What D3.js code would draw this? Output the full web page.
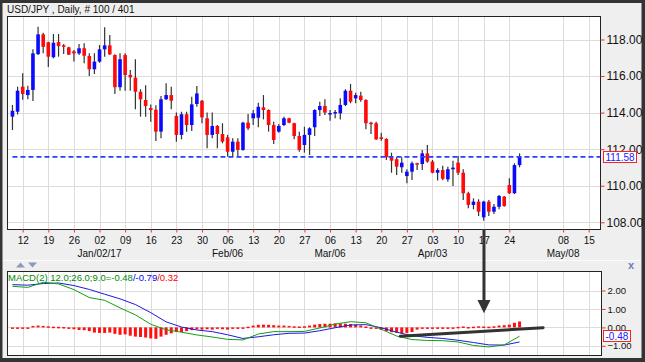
<!DOCTYPE html>
<html>
<head>
    <meta charset="utf-8">
    <title>USD/JPY Daily</title>
    <script src="https://cdn.jsdelivr.net/npm/d3@7"></script>
    <style>
        body { margin: 0; background: #333; }
        svg text { font-family: "Liberation Sans", Arial, sans-serif; }
    </style>
</head>
<body>
<svg id="chart" width="645" height="362"></svg>
<script>
    // daily candles, one per weekday: Dec 08 2016 .. Apr 26 2017 (index 0..99)
    var opens = [
        113.78, 114.05, 115.42, 114.96, 115.24, 117.20, 118.28, 117.85, 117.03, 117.86,
        117.68, 117.57, 117.35, 117.24, 117.52, 117.10, 116.37, 116.79, 117.46, 117.68,
        117.15, 115.39, 117.15, 116.06, 115.91, 115.14, 114.69, 114.25, 114.16, 112.96,
        114.73, 114.96, 113.82, 112.78, 113.91, 113.32, 114.47, 114.65, 113.69, 112.78,
        113.27, 112.83, 112.65, 111.86, 112.41, 111.96, 113.45, 113.69, 113.72, 114.29,
        114.14, 113.32, 112.96, 113.32, 113.69, 113.42, 112.72, 112.23, 112.78, 113.20,
        114.14, 114.36, 113.92, 113.95, 113.96, 114.42, 115.20, 114.78, 114.93, 114.69,
        113.45, 113.42, 112.65, 112.56, 111.56, 111.45, 111.01, 110.53, 110.77, 111.23,
        111.19, 111.77, 111.32, 110.71, 110.86, 110.35, 110.90, 111.26, 110.71, 109.59,
        108.95, 109.13, 108.27, 109.13, 108.58, 108.85, 109.40, 110.04, 109.59, 111.13
    ];
    var highs = [
        114.42, 115.42, 116.15, 115.47, 117.46, 118.70, 118.37, 117.88, 118.30, 118.30,
        117.75, 117.60, 117.43, 117.75, 117.79, 117.25, 117.25, 117.70, 118.67, 118.25,
        117.19, 117.25, 117.25, 116.33, 116.92, 115.28, 115.50, 114.45, 114.40, 114.91,
        115.60, 115.42, 114.00, 114.05, 114.05, 114.87, 115.46, 114.69, 114.00, 114.00,
        113.32, 113.42, 112.78, 112.60, 112.60, 113.50, 113.92, 114.14, 114.54, 114.96,
        114.18, 113.50, 113.38, 113.78, 113.72, 113.45, 112.96, 113.23, 113.20, 114.18,
        114.60, 114.73, 114.14, 114.14, 114.78, 115.28, 115.57, 115.09, 115.14, 114.73,
        113.50, 113.50, 112.90, 112.60, 111.81, 111.56, 111.56, 110.90, 111.32, 111.26,
        111.96, 112.23, 111.41, 110.95, 111.10, 111.04, 111.37, 111.63, 110.90, 109.67,
        109.31, 109.26, 109.18, 109.22, 109.00, 109.49, 109.44, 110.41, 111.23, 111.77
    ];
    var lows = [
        113.05, 113.90, 114.70, 114.73, 114.64, 117.15, 117.25, 116.50, 116.97, 117.06,
        117.20, 117.15, 116.79, 117.15, 116.70, 116.00, 116.11, 116.73, 117.06, 117.15,
        115.02, 115.20, 115.20, 115.20, 114.18, 113.78, 113.78, 113.50, 112.45, 112.60,
        114.69, 114.18, 112.41, 112.54, 112.96, 113.00, 114.32, 113.42, 112.05, 112.60,
        112.05, 112.32, 111.59, 111.59, 111.59, 111.92, 113.05, 113.32, 113.20, 113.63,
        112.96, 112.28, 112.90, 113.27, 113.42, 112.54, 111.86, 111.81, 111.68, 112.72,
        113.82, 113.87, 113.56, 113.69, 113.63, 114.36, 114.51, 114.51, 114.60, 113.09,
        112.83, 112.50, 112.46, 111.41, 110.71, 110.59, 110.71, 110.13, 110.31, 110.86,
        110.86, 111.26, 110.68, 110.28, 110.30, 110.22, 109.99, 110.59, 109.22, 108.77,
        108.71, 108.34, 108.09, 108.34, 108.45, 108.71, 108.85, 109.55, 109.55, 111.01
    ];
    var closes = [
        114.10, 115.20, 115.02, 115.24, 117.24, 118.28, 117.60, 117.06, 117.82, 117.64,
        117.60, 117.17, 117.24, 117.52, 117.11, 116.37, 116.79, 117.46, 117.68, 117.19,
        115.39, 116.92, 116.06, 115.93, 115.14, 114.73, 114.36, 114.14, 112.96, 114.73,
        114.96, 114.65, 112.78, 113.91, 113.32, 114.45, 115.05, 113.74, 112.78, 113.27,
        112.83, 112.41, 111.86, 112.41, 111.96, 113.45, 113.14, 113.96, 114.32, 114.14,
        113.32, 112.50, 113.27, 113.69, 113.45, 112.72, 111.96, 112.78, 113.14, 114.14,
        114.36, 114.00, 113.98, 114.03, 114.42, 115.20, 114.60, 114.96, 114.69, 113.42,
        113.42, 112.54, 112.56, 111.56, 111.37, 111.04, 111.26, 110.77, 111.23, 111.15,
        111.77, 111.32, 110.71, 110.86, 110.38, 110.90, 110.99, 110.71, 109.59, 108.95,
        109.13, 108.58, 109.13, 108.58, 108.85, 109.44, 108.89, 109.59, 111.13, 111.58
    ];
    var lastPrice = 111.58;
    var priceTicks = [108, 110, 112, 114, 116, 118];

    // weekly (Monday) ticks, in candle index units
    var weekIdx = [2, 7, 12, 17, 22, 27, 32, 37, 42, 47, 52, 57, 62, 67, 72, 77, 82, 87, 92, 97, 107.5, 112.5];
    var weekLabels = ["12", "19", "26", "02", "09", "16", "23", "30", "06", "13", "20",
                      "27", "06", "13", "20", "27", "03", "10", "17", "24", "08", "15"];
    var macdWeekIdx = [2, 7, 12, 17, 22, 27, 32, 37, 42, 47, 52, 57, 62, 67, 72, 77, 82, 87, 92, 97, 102.5, 107.5, 112.5];
    var monthIdx = [17, 42, 62, 82, 107.5];
    var monthLabels = ["Jan/02/17", "Feb/06", "Mar/06", "Apr/03", "May/08"];

    // MACD(12,26,9)
    var macdIdx = [0, 3, 6, 9, 12, 15, 18, 21, 24, 27, 30, 33, 36, 39, 42, 45, 48,
                   51, 54, 57, 60, 63, 66, 69, 72, 75, 78, 81, 84, 87, 90, 93, 96, 99];
    var macdLine = [2.23, 2.17, 2.45, 2.36, 2.05, 1.62, 1.47, 1.06, 0.68, 0.17, -0.13, -0.26,
                    -0.41, -0.52, -0.65, -0.68, -0.36, -0.23, -0.23, -0.22, -0.03, 0.18, 0.31,
                    0.25, -0.10, -0.47, -0.66, -0.71, -0.72, -0.79, -0.98, -1.06, -0.95, -0.48];
    var signalLine = [2.32, 2.29, 2.38, 2.41, 2.27, 2.06, 1.80, 1.55, 1.24, 0.80, 0.30, 0.02,
                      -0.14, -0.23, -0.40, -0.60, -0.51, -0.40, -0.32, -0.31, -0.18, -0.02, 0.13,
                      0.15, -0.02, -0.26, -0.45, -0.54, -0.60, -0.70, -0.82, -0.95, -0.96, -0.79];
    var histogram = [
        -0.02, -0.03, -0.02, 0.00, 0.08, 0.10, 0.08, 0.06, 0.04, 0.03,
        0.02, 0.00, -0.10, -0.14, -0.15, -0.20, -0.28, -0.30, -0.30, -0.28,
        -0.35, -0.40, -0.38, -0.45, -0.50, -0.52, -0.55, -0.60, -0.62, -0.50,
        -0.40, -0.32, -0.25, -0.25, -0.20, -0.15, -0.10, -0.12, -0.10, -0.12,
        -0.08, -0.10, -0.12, -0.08, -0.04, -0.02, 0.04, 0.10, 0.14, 0.15,
        0.14, 0.12, 0.10, 0.10, 0.08, 0.06, 0.05, 0.06, 0.10, 0.15,
        0.18, 0.20, 0.20, 0.22, 0.22, 0.20, 0.18, 0.15, 0.10, 0.05,
        0.00, -0.08, -0.14, -0.20, -0.26, -0.30, -0.32, -0.30, -0.25, -0.12,
        -0.05, -0.03, -0.05, -0.04, -0.03, -0.02, 0.00, 0.03, 0.05, 0.02,
        0.04, 0.06, 0.05, 0.04, 0.06, 0.10, 0.12, 0.15, 0.25, 0.32
    ];
    var macdTicks = [-1, 0, 1, 2];
    var macdText = [["MACD(2) 12.0;26.0;9.0=-0.48", "#008a00"], ["/-0.79", "#0000ff"], ["/0.32", "#ff0000"]];

    var svg = d3.select("#chart");

    var x = d3.scaleLinear().domain([-0.87, 114.8]).range([8, 600.5]);
    var y = d3.scaleLinear().domain([107.633, 119.231]).range([229, 17]);
    var ym = d3.scaleLinear().domain([-1.525, 3.006]).range([355.5, 272]);

    function px(v) { return Math.round(v) + 0.5; }

    // frame
    svg.append("rect").attr("width", 645).attr("height", 362).attr("fill", "#343434");
    svg.append("rect").attr("x", 2.5).attr("y", 3).attr("width", 639).attr("height", 355).attr("fill", "#efefef");
    svg.append("text").attr("x", 7).attr("y", 13).style("font-size", "10px").attr("fill", "#111")
            .text("USD/JPY , Daily, # 100 / 401");

    // ---------- price panel ----------
    var main = svg.append("g");
    main.append("rect").attr("x", 8).attr("y", 17).attr("width", 592.5).attr("height", 212).attr("fill", "#fff");

    main.selectAll(".vgrid").data(weekIdx.filter(function(d) { return d < 114; })).enter()
            .append("line")
            .attr("x1", function(d) { return px(x(d)); })
            .attr("x2", function(d) { return px(x(d)); })
            .attr("y1", 17).attr("y2", 229)
            .attr("stroke", "#dcdcdc");
    main.selectAll(".hgrid").data(priceTicks).enter()
            .append("line")
            .attr("x1", 8).attr("x2", 600)
            .attr("y1", function(d) { return px(y(d)); })
            .attr("y2", function(d) { return px(y(d)); })
            .attr("stroke", "#dcdcdc");

    var candles = main.selectAll(".candle").data(closes).enter().append("g");
    candles.append("line")
            .attr("x1", function(d, i) { return x(i); })
            .attr("x2", function(d, i) { return x(i); })
            .attr("y1", function(d, i) { return y(highs[i]); })
            .attr("y2", function(d, i) { return y(lows[i]); })
            .attr("stroke", "#333").attr("stroke-width", 1.2);
    candles.append("rect")
            .attr("x", function(d, i) { return x(i) - 1.8; })
            .attr("width", 3.6)
            .attr("y", function(d, i) { return y(Math.max(opens[i], d)); })
            .attr("height", function(d, i) { return Math.max(1.5, Math.abs(y(opens[i]) - y(d))); })
            .attr("fill", function(d, i) { return d >= opens[i] ? "#0a0aff" : "#ff0a0a"; });

    // last price line (drawn over the candles, as in the original)
    main.append("line")
            .attr("x1", x(0)).attr("x2", 600)
            .attr("y1", y(lastPrice)).attr("y2", y(lastPrice))
            .style("stroke", "#2a3cff").style("stroke-width", "1.6px").style("stroke-dasharray", "5,3");

    main.append("rect").attr("x", 7.5).attr("y", 16.5).attr("width", 593).attr("height", 213)
            .attr("fill", "none").attr("stroke", "#222");

    // price axis
    var yAxis = main.append("g").attr("transform", "translate(600.5,0)")
            .call(d3.axisRight(y).tickValues(priceTicks).tickSize(4).tickPadding(2).tickFormat(d3.format(".2f")));
    yAxis.select(".domain").remove();
    yAxis.selectAll("line").attr("stroke", "#f03030");
    yAxis.selectAll("text").style("font-size", "12px").attr("fill", "#111")
            .style("font-family", "'Liberation Sans', Arial, sans-serif");

    main.append("rect").attr("x", 603.5).attr("y", 151.5).attr("width", 33).attr("height", 11)
            .attr("fill", "#fff").attr("stroke", "#ff2020");
    main.append("text").attr("x", 605.5).attr("y", 160.5).style("font-size", "10px")
            .attr("fill", "#2020ff").text(lastPrice.toFixed(2));

    // date axis
    var xAxis = main.append("g").attr("transform", "translate(0,229.5)")
            .call(d3.axisBottom(x).tickValues(weekIdx).tickSize(3).tickPadding(4)
                    .tickFormat(function(d, i) { return weekLabels[i]; }));
    xAxis.select(".domain").remove();
    xAxis.selectAll("line").attr("stroke", "#f03030");
    xAxis.selectAll("text").style("font-size", "10px").attr("fill", "#111")
            .style("font-family", "'Liberation Sans', Arial, sans-serif");

    main.selectAll(".month").data(monthLabels).enter()
            .append("text")
            .attr("x", function(d, i) { return x(monthIdx[i]); })
            .attr("y", 257)
            .attr("text-anchor", "middle")
            .style("font-size", "10px").attr("fill", "#111")
            .text(function(d) { return d; });

    // ---------- MACD panel ----------
    svg.append("line").attr("x1", 3).attr("x2", 641).attr("y1", 260.5).attr("y2", 260.5).attr("stroke", "#fcfcfc");
    svg.append("path").attr("d", "M16,267.5 L20.5,262.5 L25,267.5 Z").attr("fill", "#8a9ab8");
    svg.append("path").attr("d", "M28,262.5 L32.5,267.5 L37,262.5 Z").attr("fill", "#8a9ab8");
    svg.append("text").attr("x", 628).attr("y", 269).style("font-size", "11px").style("font-weight", "bold")
            .attr("fill", "#6c7fae").text("x");

    var lower = svg.append("g");
    lower.append("rect").attr("x", 8).attr("y", 272).attr("width", 593).attr("height", 83.5).attr("fill", "#fff");
    lower.selectAll(".vgrid").data(macdWeekIdx.filter(function(d) { return d < 114; })).enter()
            .append("line")
            .attr("x1", function(d) { return px(x(d)); })
            .attr("x2", function(d) { return px(x(d)); })
            .attr("y1", 272).attr("y2", 355.5)
            .attr("stroke", "#dcdcdc");
    lower.selectAll(".hgrid").data(macdTicks).enter()
            .append("line")
            .attr("x1", 8).attr("x2", 601)
            .attr("y1", function(d) { return px(ym(d)); })
            .attr("y2", function(d) { return px(ym(d)); })
            .attr("stroke", "#dcdcdc");

    lower.selectAll(".bar").data(histogram).enter()
            .append("rect")
            .attr("x", function(d, i) { return x(i) - 1.5; })
            .attr("width", 3)
            .attr("y", function(d) { return d >= 0 ? ym(d) : ym(0); })
            .attr("height", function(d) { return Math.max(1.5, Math.abs(ym(d) - ym(0))); })
            .attr("fill", "#ff1010");

    var line = d3.line()
            .x(function(d, i) { return x(macdIdx[i]); })
            .y(function(d) { return ym(d); });
    lower.append("path").attr("d", line(signalLine)).attr("fill", "none").attr("stroke", "#1a1ae0");
    lower.append("path").attr("d", line(macdLine)).attr("fill", "none").attr("stroke", "#11a011");

    lower.append("rect").attr("x", 7.5).attr("y", 271.5).attr("width", 594).attr("height", 84)
            .attr("fill", "none").attr("stroke", "#222");

    var label = lower.append("text").attr("x", 8).attr("y", 281).style("font-size", "9.5px");
    label.selectAll("tspan").data(macdText).enter()
            .append("tspan")
            .attr("fill", function(d) { return d[1]; })
            .text(function(d) { return d[0]; });

    var mAxis = lower.append("g").attr("transform", "translate(601.5,0)")
            .call(d3.axisRight(ym).tickValues(macdTicks).tickSize(4).tickPadding(2).tickFormat(d3.format(".2f")));
    mAxis.select(".domain").remove();
    mAxis.selectAll("line").attr("stroke", "#f03030");
    mAxis.selectAll("text").style("font-size", "9.5px").attr("fill", "#111")
            .style("font-family", "'Liberation Sans', Arial, sans-serif");

    lower.append("rect").attr("x", 603.5).attr("y", 330.5).attr("width", 27).attr("height", 11)
            .attr("fill", "#fff").attr("stroke", "#ff2020");
    lower.append("text").attr("x", 605.5).attr("y", 339.5).style("font-size", "10px")
            .attr("fill", "#2020ff").text(macdLine[macdLine.length - 1].toFixed(2));

    // hand-drawn annotations: trend line on MACD and arrow from the low
    lower.append("line")
            .attr("x1", x(75.7)).attr("y1", ym(-0.48))
            .attr("x2", x(103.6)).attr("y2", ym(-0.02))
            .attr("stroke", "#333").attr("stroke-width", 3).attr("stroke-linecap", "round");
    var ax = x(92.05);
    svg.append("line").attr("x1", ax).attr("x2", ax).attr("y1", y.range()[0]).attr("y2", ym(1.45))
            .attr("stroke", "#333").attr("stroke-width", 3);
    svg.append("path")
            .attr("d", "M" + (ax - 6.5) + "," + ym(1.49) + " L" + (ax + 6.5) + "," + ym(1.49) + " L" + ax + "," + ym(0.77) + " Z")
            .attr("fill", "#333");
</script>
</body>
</html>
